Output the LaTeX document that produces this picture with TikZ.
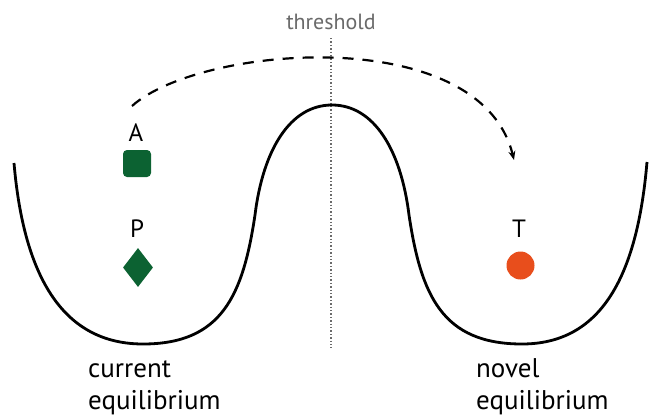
\documentclass[tikz,border=0pt]{standalone}
\usepackage{fontspec}
\setmainfont{PT Sans}
\usetikzlibrary{shapes.geometric,arrows.meta}

\definecolor{stategreen}{HTML}{0C6232}
\definecolor{targetorange}{HTML}{E84E1C}
\definecolor{threshgray}{HTML}{6A6A6A}

\tikzset{
  landscape/.style={line width=2.8pt, line join=round},
  jump/.style={line width=2.2pt, dash pattern=on 11pt off 9pt, -{Stealth[length=9pt,width=7pt]}},
  labeltext/.style={font=\fontsize{25}{30}\selectfont, inner sep=0pt, anchor=base},
  captiontext/.style={font=\fontsize{27}{32}\selectfont, align=left, anchor=base west, inner sep=0pt},
  squaremark/.style={rectangle, rounded corners=4pt, fill=stategreen, minimum width=28pt, minimum height=27pt, inner sep=0pt},
  diamondmark/.style={diamond, fill=stategreen, minimum width=30pt, minimum height=39pt, inner sep=0pt},
  circlemark/.style={circle, fill=targetorange, minimum size=28pt, inner sep=0pt},
}

\begin{document}
\begin{tikzpicture}[x=1pt,y=-1pt]
  \useasboundingbox (0,0) rectangle (649,416);

  % threshold marker
  \node[font=\fontsize{22}{26}\selectfont, text=threshgray, inner sep=0pt, anchor=base] (thresh) at (331,29) {threshold};
  \coordinate (divtop) at (331,38);
  \coordinate (divbot) at (331,348);
  \draw[threshgray, line width=1.4pt, dash pattern=on 1.4pt off 2pt] (divtop) -- (divbot);

  % double-well landscape
  \draw[landscape]
    (14,163) .. controls (24,280) and (65,344) .. (143,344)
    .. controls (222,344) and (243,295) .. (255,215)
    .. controls (263,150) and (290,105) .. (332,105)
    .. controls (374,105) and (401,150) .. (409,215)
    .. controls (421,295) and (442,344) .. (522,344)
    .. controls (599,344) and (637,280) .. (647,162);

  % states
  \node[labeltext] (lblA) at (136,141) {A};
  \node[squaremark] (stA) at (137,163.5) {};
  \node[labeltext] (lblP) at (137,237) {P};
  \node[diamondmark] (stP) at (138,267.5) {};
  \node[labeltext] (lblT) at (519,237) {T};
  \node[circlemark] (stT) at (520.5,265.5) {};

  % transition across the threshold
  \coordinate (jumpstart) at (132,106);
  \coordinate (jumpend) at (514,160);
  \draw[jump] (jumpstart) .. controls (200,45) and (480,22) .. (jumpend);

  % captions
  \node[captiontext] (capL) at (88,409) {current\\equilibrium};
  \node[captiontext] (capR) at (476,409) {novel\\equilibrium};
\end{tikzpicture}
\end{document}
